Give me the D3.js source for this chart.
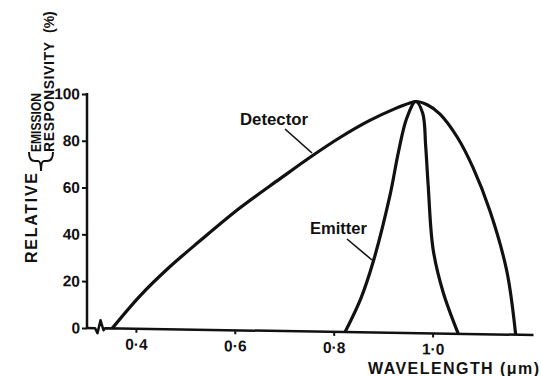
<!DOCTYPE html>
<html><head><meta charset="utf-8">
<script src="https://cdn.jsdelivr.net/npm/d3@7"></script>
<style>
html,body{margin:0;padding:0;background:#fff;}
svg{display:block;}
text{font-family:"Liberation Sans",Arial,sans-serif;font-weight:bold;fill:#111;}
</style></head>
<body>
<script>
// ---- data ----
const detectorX = [0.352, 0.408, 0.468, 0.529, 0.610, 0.691, 0.756, 0.812, 0.873, 0.923, 0.954, 0.966, 0.990, 1.015, 1.050, 1.082, 1.116, 1.150, 1.168];
const detectorY = [0, 14.0, 26.6, 37.9, 52.3, 65.0, 75.0, 83.0, 90.6, 95.7, 98.3, 99, 97.6, 93.8, 84.0, 71, 52.7, 27.2, 0];
const emitterX = [0.823, 0.855, 0.880, 0.914, 0.931, 0.948, 0.966, 0.980, 0.986, 0.991, 1.001, 1.021, 1.052];
const emitterY = [0, 14.5, 30.3, 58.9, 77.4, 92.0, 99, 94.0, 80.0, 63.4, 36.0, 17.9, 0];
const xTicks = [0.4, 0.6, 0.8, 1.0];
const yTicks = [0, 20, 40, 60, 80, 100];
const xLabels = ["0·4", "0·6", "0·8", "1·0"];

const W = 541, H = 376;
const svg = d3.select("body").append("svg").attr("width", W).attr("height", H);

const x = d3.scaleLinear().domain([0.4, 1.0]).range([135.9, 432.6]);
const y = d3.scaleLinear().domain([0, 100]).range([328, 94]);
const x0 = 87; // y-axis position

// slight scan skew of the plot area
const plot = svg.append("g")
  .attr("transform", `translate(${x0},0) skewY(0.9) translate(${-x0},0)`);

// y axis
const yAxis = d3.axisLeft(y).tickValues(yTicks).tickSize(5).tickPadding(2).tickFormat(d3.format("d"));
const gy = plot.append("g").attr("transform", `translate(${x0},0)`).call(yAxis);
gy.select(".domain").remove();
gy.selectAll(".tick line").attr("stroke", "#111").attr("stroke-width", 2);
gy.selectAll(".tick text").style("font-size", "15.5px").attr("fill", "#111");
plot.append("line").attr("x1", x0).attr("x2", x0).attr("y1", y(100) - 1).attr("y2", y(0) + 1)
  .attr("stroke", "#111").attr("stroke-width", 2.5);

// x axis with break
const xAxis = d3.axisBottom(x).tickValues(xTicks).tickSize(4).tickPadding(6)
  .tickFormat((d, i) => xLabels[i]);
const gx = plot.append("g").attr("transform", `translate(0,${y(0)})`).call(xAxis);
gx.select(".domain").remove();
gx.selectAll(".tick line").attr("stroke", "#111").attr("stroke-width", 2);
gx.selectAll(".tick text").style("font-size", "15.5px").attr("fill", "#111");
const y0 = y(0);
plot.append("path")
  .attr("d", `M${x0},${y0} L${x0 + 8},${y0} L${x0 + 10.5},${y0 + 5} L${x0 + 13.5},${y0 - 8} L${x0 + 16.5},${y0 + 2} L${x0 + 18},${y0} L${x(1.204)},${y0}`)
  .attr("fill", "none").attr("stroke", "#111").attr("stroke-width", 2.5).attr("stroke-linejoin", "round");

// curves
const line = d3.line().x(d => x(d[0])).y(d => y(d[1])).curve(d3.curveCatmullRom.alpha(0.5));
plot.append("path").datum(detectorX.map((v, i) => [v, detectorY[i]]))
  .attr("d", line).attr("fill", "none").attr("stroke", "#111").attr("stroke-width", 3.2).attr("stroke-linejoin", "round");
plot.append("path").datum(emitterX.map((v, i) => [v, emitterY[i]]))
  .attr("d", line).attr("fill", "none").attr("stroke", "#111").attr("stroke-width", 3.2).attr("stroke-linejoin", "round");

// annotations
svg.append("text").attr("x", 240).attr("y", 125).style("font-size", "16px")
  .attr("textLength", 68).attr("lengthAdjust", "spacingAndGlyphs").text("Detector");
svg.append("line").attr("x1", 285).attr("y1", 129).attr("x2", 312).attr("y2", 153)
  .attr("stroke", "#111").attr("stroke-width", 1.6);
svg.append("text").attr("x", 310).attr("y", 234).style("font-size", "16px")
  .attr("textLength", 57).attr("lengthAdjust", "spacingAndGlyphs").text("Emitter");
svg.append("line").attr("x1", 347).attr("y1", 239).attr("x2", 372).attr("y2", 260)
  .attr("stroke", "#111").attr("stroke-width", 1.6);

// x axis title
svg.append("text").attr("x", 368).attr("y", 374).style("font-size", "16px")
  .attr("textLength", 171).attr("lengthAdjust", "spacing").text("WAVELENGTH (μm)");

// y axis title
svg.append("text").attr("transform", "translate(37,263) rotate(-90)").style("font-size", "16px")
  .attr("textLength", 90).attr("lengthAdjust", "spacing").text("RELATIVE");
svg.append("text").attr("transform", "translate(41,152) rotate(-90)").style("font-size", "14px")
  .attr("textLength", 59).attr("lengthAdjust", "spacingAndGlyphs").text("EMISSION");
svg.append("text").attr("transform", "translate(53.5,152) rotate(-90)").style("font-size", "14px")
  .attr("textLength", 110).attr("lengthAdjust", "spacing").text("RESPONSIVITY");
svg.append("text").attr("transform", "translate(54,33) rotate(-90)").style("font-size", "14px").text("(%)");
svg.append("path")
  .attr("d", "M29,152 Q29,161 35,161 L38,161 Q41,161 41,171 Q41,161 44,161 L47,161 Q53,161 53,152")
  .attr("fill", "none").attr("stroke", "#111").attr("stroke-width", 2);
</script>
</body></html>
